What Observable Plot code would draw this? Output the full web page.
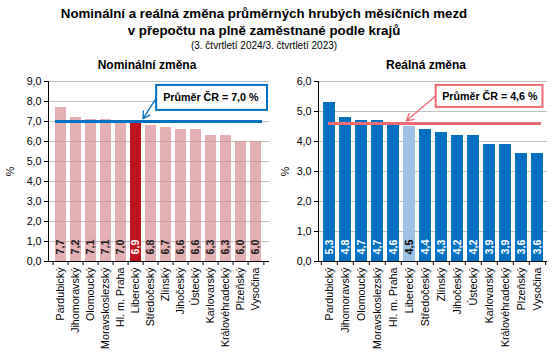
<!DOCTYPE html>
<html><head><meta charset="utf-8">
<script src="https://cdn.jsdelivr.net/npm/d3@7"></script>
<script src="https://cdn.jsdelivr.net/npm/@observablehq/plot@0.6"></script>
<style>
body{margin:0;background:#fff;font-family:"Liberation Sans",Arial,sans-serif;}
#wrap{width:555px;height:361px;position:relative;overflow:hidden}
#title{position:absolute;left:0;top:0;width:528px;text-align:center;color:#000}
.t1{font-weight:bold;font-size:13.3px;line-height:17px;padding-top:5px}
.t2{font-size:10px;line-height:14px}
#charts{position:absolute;left:0;top:56px;display:flex}
</style></head><body>
<div id="wrap">
<div id="title"><div class="t1">Nominální a reálná změna průměrných hrubých měsíčních mezd<br>v přepočtu na plně zaměstnané podle krajů</div><div class="t2">(3. čtvrtletí 2024/3. čtvrtletí 2023)</div></div>
<div id="charts"></div>
</div>
<script>
const regions = ["Pardubický","Jihomoravský","Olomoucký","Moravskoslezský","Hl. m. Praha","Liberecký","Středočeský","Zlínský","Jihočeský","Ústecký","Karlovarský","Královéhradecký","Plzeňský","Vysočina"];
const nominal = [7.7,7.2,7.1,7.1,7.0,6.9,6.8,6.7,6.6,6.6,6.3,6.3,6.0,6.0];
const real = [5.3,4.8,4.7,4.7,4.6,4.5,4.4,4.3,4.2,4.2,3.9,3.9,3.6,3.6];
const avgNominal = 7.0;
const avgReal = 4.6;
const highlight = "Liberecký";
const panelTitles = ["Nominální změna", "Reálná změna"];
const nominalTicks = [0,1,2,3,4,5,6,7,8,9];
const realTicks = [0,1,2,3,4,5,6];

const fmt = v => d3.format(".1f")(v).replace(".", ",");

function chart(c) {
  const data = regions.map((name, i) => ({name, value: c.values[i]}));
  const H = 305, MT = 25, MB = 100;
  const plotW = c.width - c.ml - c.mr;
  const step = plotW / regions.length;
  const calloutText = `Průměr ČR = ${fmt(c.avg)} %`;
  const svg = Plot.plot({
    width: c.width, height: H,
    marginLeft: c.ml, marginRight: c.mr, marginTop: MT, marginBottom: MB,
    style: {fontFamily: "Liberation Sans, Arial, sans-serif", fontSize: "10.7px", color: "#000", background: "#fff"},
    x: {domain: regions, paddingInner: 0.26, paddingOuter: 0.13},
    y: {domain: [0, c.ticks[c.ticks.length - 1]]},
    marks: [
      Plot.gridY(c.ticks, {stroke: "#bfbfbf", strokeOpacity: 1}),
      Plot.barY(data, {x: "name", y: "value", fill: d => d.name === highlight ? c.hiColor : c.barColor,
        fillOpacity: d => d.name === highlight ? 1 : c.barOpacity}),
      Plot.ruleY([0], {stroke: "#000"}),
      Plot.frame({anchor: "left", stroke: "#000"}),
      Plot.ruleX(regions, {x: d => d, dx: -step / 2, insetTop: H - MT - MB, insetBottom: -4, stroke: "#000"}),
      Plot.ruleX([regions[regions.length - 1]], {x: d => d, dx: step / 2, insetTop: H - MT - MB, insetBottom: -4, stroke: "#000"}),
      Plot.axisY({ticks: c.ticks, tickFormat: fmt, tickSize: 4, tickPadding: 3, label: "%", labelAnchor: "center", labelOffset: c.labelOffset, labelArrow: false}),
      Plot.axisX({tickSize: 0, tickPadding: 6, tickRotate: -90, label: null}),
      Plot.text(data, {x: "name", y: 0, text: d => fmt(d.value), rotate: -90, textAnchor: "start", lineAnchor: "middle",
        dy: -7, fontWeight: "bold", fontSize: 10.7, fill: d => d.name === highlight ? c.hiText : c.text}),
      Plot.ruleY([c.avg], {stroke: c.avgColor, strokeWidth: 3, insetLeft: c.lineInsetL, insetRight: c.lineInsetR}),
      Plot.arrow([c.avg], {x1: () => c.arrowFrom, x2: () => highlight, y1: d => d + c.arrowY1, y2: d => d + c.arrowY2,
        dx: c.arrowDx, stroke: c.avgColor, strokeWidth: 1.3, headLength: 9, bend: 0}),
      Plot.text([calloutText], {frameAnchor: "top-right", dx: c.calloutDx, dy: c.calloutDy, textAnchor: "end", lineAnchor: "middle",
        fontWeight: "bold", fontSize: 10.7, fill: "#000"}),
      Plot.text([c.title], {frameAnchor: "top", dx: c.titleDx, dy: -16, lineAnchor: "middle", fontWeight: "bold", fontSize: 12, fill: "#000"})
    ]
  });
  document.getElementById("charts").appendChild(svg);
  const t = Array.from(svg.querySelectorAll("text")).find(e => e.textContent === calloutText);
  if (t) {
    const bb = t.getBBox();
    const r = document.createElementNS("http://www.w3.org/2000/svg", "rect");
    r.setAttribute("x", bb.x - c.padL);
    r.setAttribute("width", bb.width + c.padL + c.padR);
    r.setAttribute("y", bb.y + bb.height / 2 - c.boxH / 2);
    r.setAttribute("height", c.boxH);
    r.setAttribute("fill", "#fff");
    r.setAttribute("stroke", c.avgColor);
    r.setAttribute("stroke-width", 2);
    if (t.getAttribute("transform")) r.setAttribute("transform", t.getAttribute("transform"));
    t.parentNode.insertBefore(r, t);
  }
}

chart({values: nominal, ticks: nominalTicks, avg: avgNominal, width: 277, ml: 48, mr: 8,
  barColor: "#d98a91", barOpacity: 0.68, hiColor: "#c0141e", text: "#1a1a1a", hiText: "#fff",
  avgColor: "#0070c0", title: panelTitles[0], titleDx: -12, labelOffset: 42,
  lineInsetL: 7, lineInsetR: 7, arrowFrom: "Středočeský", arrowDx: 7, arrowY1: 1.3, arrowY2: 0.14,
  calloutDx: -11, calloutDy: 16.5, padL: 7, padR: 8, boxH: 25});

chart({values: real, ticks: realTicks, avg: avgReal, width: 278, ml: 41, mr: 8,
  barColor: "#0070c0", barOpacity: 1, hiColor: "#9dc3e6", text: "#fff", hiText: "#000",
  avgColor: "#eb6a73", title: panelTitles[1], titleDx: -7, labelOffset: 37,
  lineInsetL: 10, lineInsetR: 6, arrowFrom: "Zlínský", arrowDx: -3, arrowY1: 1.0, arrowY2: 0.09,
  calloutDx: -10, calloutDy: 15, padL: 6.5, padR: 4.5, boxH: 22});
</script>
</body></html>
